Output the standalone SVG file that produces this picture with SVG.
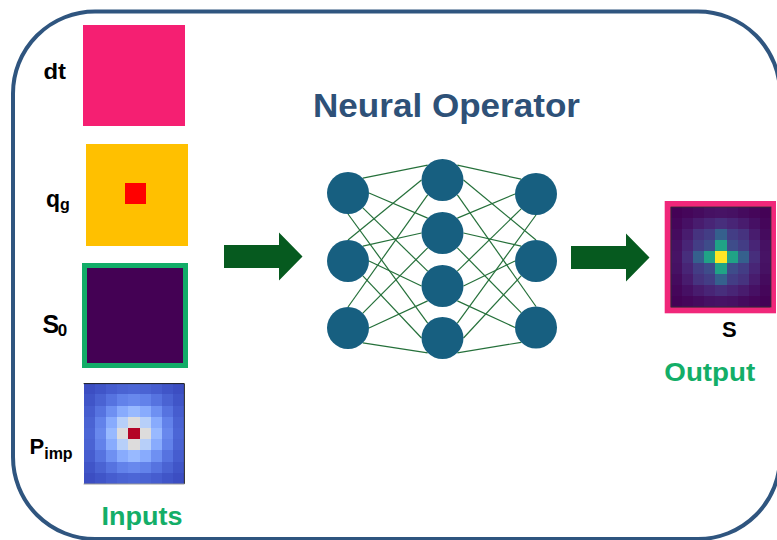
<svg xmlns="http://www.w3.org/2000/svg" width="777" height="540" viewBox="0 0 777 540">
<style>
text{font-family:"Liberation Sans",Arial,sans-serif;font-weight:bold}
.lbl{fill:#000;font-size:22px}
.sub{font-size:16px}
.green{fill:#13AE68;font-size:25px}
.title{fill:#2E5178;font-size:33px}
.frame{fill:none;stroke:#2F557F;stroke-width:4}
.node{fill:#175F80}
#connectors line{stroke:#25703A;stroke-width:1.2;fill:none}
.arrow{fill:#065A1F}
.p00{fill:#B40426}.p01{fill:#DDDCDC}.p11{fill:#B7CFF9}.p02{fill:#98B9FF}.p12{fill:#88ABFD}.p22{fill:#6E90F2}
.p03{fill:#6888ED}.p13{fill:#6282EA}.p23{fill:#5673E0}.p33{fill:#4A63D3}.p04{fill:#4C66D6}.p14{fill:#4A63D3}
.p24{fill:#465DCF}.p34{fill:#4055C8}.p44{fill:#3C4EC2}
.s00{fill:#FDE725}.s01{fill:#20A386}.s11{fill:#3E4C8A}.s02{fill:#35608D}.s12{fill:#433D85}.s22{fill:#46337F}
.s03{fill:#472E7C}.s13{fill:#482576}.s23{fill:#481C6E}.s33{fill:#461064}.s04{fill:#471365}.s14{fill:#461163}
.s24{fill:#450B5E}.s34{fill:#45065A}.s44{fill:#440256}
</style>
<defs>
<g id="pq">
<rect class="p00" x="-0.5" y="-0.5" width="1" height="1"/><rect class="p01" x="0.5" y="-0.5" width="1" height="1"/><rect class="p02" x="1.5" y="-0.5" width="1" height="1"/><rect class="p03" x="2.5" y="-0.5" width="1" height="1"/><rect class="p04" x="3.5" y="-0.5" width="1" height="1"/>
<rect class="p01" x="-0.5" y="0.5" width="1" height="1"/><rect class="p11" x="0.5" y="0.5" width="1" height="1"/><rect class="p12" x="1.5" y="0.5" width="1" height="1"/><rect class="p13" x="2.5" y="0.5" width="1" height="1"/><rect class="p14" x="3.5" y="0.5" width="1" height="1"/>
<rect class="p02" x="-0.5" y="1.5" width="1" height="1"/><rect class="p12" x="0.5" y="1.5" width="1" height="1"/><rect class="p22" x="1.5" y="1.5" width="1" height="1"/><rect class="p23" x="2.5" y="1.5" width="1" height="1"/><rect class="p24" x="3.5" y="1.5" width="1" height="1"/>
<rect class="p03" x="-0.5" y="2.5" width="1" height="1"/><rect class="p13" x="0.5" y="2.5" width="1" height="1"/><rect class="p23" x="1.5" y="2.5" width="1" height="1"/><rect class="p33" x="2.5" y="2.5" width="1" height="1"/><rect class="p34" x="3.5" y="2.5" width="1" height="1"/>
<rect class="p04" x="-0.5" y="3.5" width="1" height="1"/><rect class="p14" x="0.5" y="3.5" width="1" height="1"/><rect class="p24" x="1.5" y="3.5" width="1" height="1"/><rect class="p34" x="2.5" y="3.5" width="1" height="1"/><rect class="p44" x="3.5" y="3.5" width="1" height="1"/>
</g>
<g id="sq">
<rect class="s00" x="-0.5" y="-0.5" width="1" height="1"/><rect class="s01" x="0.5" y="-0.5" width="1" height="1"/><rect class="s02" x="1.5" y="-0.5" width="1" height="1"/><rect class="s03" x="2.5" y="-0.5" width="1" height="1"/><rect class="s04" x="3.5" y="-0.5" width="1" height="1"/>
<rect class="s01" x="-0.5" y="0.5" width="1" height="1"/><rect class="s11" x="0.5" y="0.5" width="1" height="1"/><rect class="s12" x="1.5" y="0.5" width="1" height="1"/><rect class="s13" x="2.5" y="0.5" width="1" height="1"/><rect class="s14" x="3.5" y="0.5" width="1" height="1"/>
<rect class="s02" x="-0.5" y="1.5" width="1" height="1"/><rect class="s12" x="0.5" y="1.5" width="1" height="1"/><rect class="s22" x="1.5" y="1.5" width="1" height="1"/><rect class="s23" x="2.5" y="1.5" width="1" height="1"/><rect class="s24" x="3.5" y="1.5" width="1" height="1"/>
<rect class="s03" x="-0.5" y="2.5" width="1" height="1"/><rect class="s13" x="0.5" y="2.5" width="1" height="1"/><rect class="s23" x="1.5" y="2.5" width="1" height="1"/><rect class="s33" x="2.5" y="2.5" width="1" height="1"/><rect class="s34" x="3.5" y="2.5" width="1" height="1"/>
<rect class="s04" x="-0.5" y="3.5" width="1" height="1"/><rect class="s14" x="0.5" y="3.5" width="1" height="1"/><rect class="s24" x="1.5" y="3.5" width="1" height="1"/><rect class="s34" x="2.5" y="3.5" width="1" height="1"/><rect class="s44" x="3.5" y="3.5" width="1" height="1"/>
</g>
</defs>
<rect width="777" height="540" fill="#fff"/>
<rect class="frame" x="13" y="11.5" width="767" height="527.5" rx="82" ry="82"/>
<text class="title" x="313" y="116.5" textLength="267" lengthAdjust="spacingAndGlyphs">Neural Operator</text>

<g id="in-dt">
<rect x="83" y="25" width="102" height="101" fill="#F51F72"/>
<text class="lbl" x="43.5" y="79" textLength="22.5" lengthAdjust="spacingAndGlyphs">dt</text>
</g>
<g id="in-qg">
<rect x="86" y="144" width="102" height="102" fill="#FFC000"/>
<rect x="125" y="183" width="21" height="21" fill="#FF0000"/>
<text class="lbl" x="46" y="206.5" style="font-size:23px">q<tspan class="sub" y="209.5">g</tspan></text>
</g>
<g id="in-s0">
<rect x="84.5" y="265.5" width="101" height="100" fill="#440154" stroke="#12AD68" stroke-width="5"/>
<text class="lbl" x="42.5" y="332.5" style="font-size:25px">S<tspan dx="-1.5" y="335.5" style="font-size:17px">0</tspan></text>
</g>
<g id="in-pimp">
<g transform="translate(134,433.5) scale(11.2)" shape-rendering="crispEdges">
<use href="#pq"/><use href="#pq" transform="scale(-1,1)"/><use href="#pq" transform="scale(1,-1)"/><use href="#pq" transform="scale(-1,-1)"/>
</g>
<path d="M83.6 383.6H184.4V483.9" fill="none" stroke="#222" stroke-width="1"/>
<path d="M83.6 484H184.4" fill="none" stroke="#999" stroke-width="1"/>
<text class="lbl" x="29.5" y="453.5">P<tspan class="sub" y="459">imp</tspan></text>
</g>
<text class="green" x="101.5" y="525" textLength="81" lengthAdjust="spacingAndGlyphs">Inputs</text>

<g id="arrow-in"><path class="arrow" d="M224 245H279V232.5L302.5 256.5L279 280.5V268H224Z"/></g>
<g id="arrow-out"><path class="arrow" d="M571 246H626V233.5L649.5 257.5L626 281.5V269H571Z"/></g>

<g id="connectors">
<line x1="362.85" y1="178.15" x2="427.65" y2="165.15"/>
<line x1="369" y1="193" x2="427.65" y2="218.15"/>
<line x1="362.85" y1="207.85" x2="427.65" y2="271.15"/>
<line x1="348" y1="214" x2="427.65" y2="323.15"/>
<line x1="348" y1="240" x2="421.5" y2="180"/>
<line x1="362.85" y1="246.15" x2="421.5" y2="233"/>
<line x1="369" y1="261" x2="421.5" y2="286"/>
<line x1="362.85" y1="275.85" x2="421.5" y2="338"/>
<line x1="348" y1="307" x2="427.65" y2="194.85"/>
<line x1="362.85" y1="313.15" x2="427.65" y2="247.85"/>
<line x1="369" y1="328" x2="427.65" y2="300.85"/>
<line x1="362.85" y1="342.85" x2="427.65" y2="352.85"/>
<line x1="457.35" y1="165.15" x2="521.15" y2="179.15"/>
<line x1="457.35" y1="218.15" x2="515" y2="194"/>
<line x1="457.35" y1="271.15" x2="521.15" y2="208.85"/>
<line x1="457.35" y1="323.15" x2="536" y2="215"/>
<line x1="463.5" y1="180" x2="536" y2="240"/>
<line x1="463.5" y1="233" x2="521.15" y2="246.15"/>
<line x1="463.5" y1="286" x2="515" y2="261"/>
<line x1="463.5" y1="338" x2="521.15" y2="275.85"/>
<line x1="457.35" y1="194.85" x2="536" y2="306.5"/>
<line x1="457.35" y1="247.85" x2="521.15" y2="312.65"/>
<line x1="457.35" y1="300.85" x2="515" y2="327.5"/>
<line x1="457.35" y1="352.85" x2="521.15" y2="342.35"/>
</g>

<g id="n-l1"><circle class="node" cx="348" cy="193" r="21"/></g>
<g id="n-l2"><circle class="node" cx="348" cy="261" r="21"/></g>
<g id="n-l3"><circle class="node" cx="348" cy="328" r="21"/></g>
<g id="n-m1"><circle class="node" cx="442.5" cy="180" r="21"/></g>
<g id="n-m2"><circle class="node" cx="442.5" cy="233" r="21"/></g>
<g id="n-m3"><circle class="node" cx="442.5" cy="286" r="21"/></g>
<g id="n-m4"><circle class="node" cx="442.5" cy="338" r="21"/></g>
<g id="n-r1"><circle class="node" cx="536" cy="194" r="21"/></g>
<g id="n-r2"><circle class="node" cx="536" cy="261" r="21"/></g>
<g id="n-r3"><circle class="node" cx="536" cy="327.5" r="21"/></g>

<g id="out-s">
<rect x="667.7" y="204" width="105.3" height="106.3" fill="#440154" stroke="#F0277A" stroke-width="6"/>
<g transform="translate(721,257) scale(11.1)" shape-rendering="crispEdges">
<use href="#sq"/><use href="#sq" transform="scale(-1,1)"/><use href="#sq" transform="scale(1,-1)"/><use href="#sq" transform="scale(-1,-1)"/>
</g>
<rect x="671" y="207" width="100" height="100" fill="none" stroke="#333" stroke-width="0.8"/>
<text class="lbl" x="722" y="337.3">S</text>
</g>
<text class="green" x="664.3" y="380.7" textLength="91" lengthAdjust="spacingAndGlyphs">Output</text>
</svg>
